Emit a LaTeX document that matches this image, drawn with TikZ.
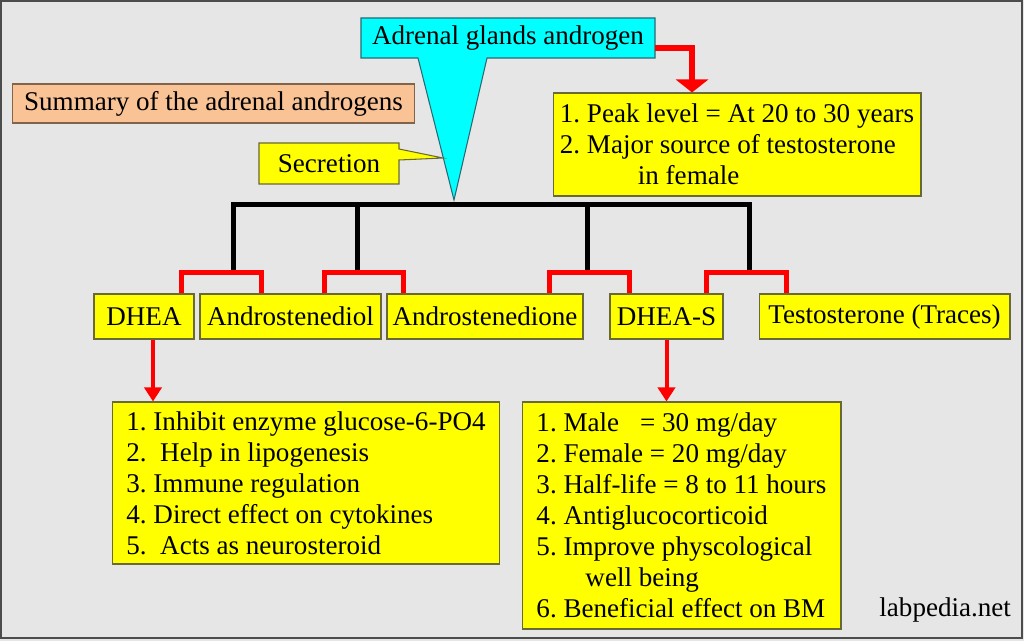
\documentclass[tikz,border=0pt]{standalone}
\usepackage{fontspec}
\setmainfont{Liberation Serif}
\usetikzlibrary{arrows.meta}
\frenchspacing
\definecolor{bg}{RGB}{230,230,230}
\definecolor{olive}{RGB}{105,105,55}
\definecolor{teal}{RGB}{40,105,115}
\definecolor{peach}{RGB}{250,195,150}
\definecolor{tan}{RGB}{130,100,75}
\definecolor{aqua}{RGB}{0,255,255}
\definecolor{lemon}{RGB}{255,255,0}
\definecolor{scarlet}{RGB}{255,0,0}
\tikzset{
  every node/.style={font=\fontsize{15.4}{17.6}\selectfont, inner sep=1pt},
  ybox/.style={draw=olive, fill=lemon, line width=0.6pt, minimum height=0.9cm},
  redarrow/.style={scarlet, line width=0.12cm, -{Triangle[width=0.64cm, length=0.26cm]}},
  thinarrow/.style={scarlet, line width=0.08cm, -{Triangle[width=0.34cm, length=0.28cm]}},
  redbrk/.style={scarlet, line width=0.1cm},
  blk/.style={black, line width=0.1cm}
}
\begin{document}
\begin{tikzpicture}[x=0.02cm, y=-0.02cm, line join=miter]
  \useasboundingbox (0,0) rectangle (1024,641);
  \fill[bg] (0,0) rectangle (1024,641);
  \draw[black!70, line width=0.04cm] (1,1) rectangle (1022,638);
  % callouts
  \filldraw[fill=aqua, draw=teal, line width=0.6pt] (361,18) -- (655,18) -- (655,58) -- (487,58) -- (454,200) -- (418,58) -- (361,58) -- cycle;
  \node[minimum width=5.88cm, minimum height=0.8cm] (src) at (508,38) {Adrenal glands androgen};
  \filldraw[fill=lemon, draw=olive, line width=0.6pt] (259,143) -- (399,143) -- (399,149) -- (443,158) -- (399,160) -- (399,184) -- (259,184) -- cycle;
  \node (secr) at (329,163.5) {Secretion};
  \node[draw=tan, fill=peach, line width=0.6pt, minimum width=8.06cm, minimum height=0.78cm] (summ) at (213.5,103.5) {Summary of the adrenal androgens};
  \node[ybox, minimum width=7.36cm, minimum height=2.06cm, align=left] (peak) at (737,144.5) {1. Peak level = At 20 to 30 years\\2. Major source of testosterone\\\hspace*{1.56cm}in female};
  % products
  \foreach \n/\x/\w/\t in {dhea/144/2/DHEA, diol/290.5/3.62/Androstenediol, dione/485/3.92/Androstenedione, dheas/666.5/2.26/DHEA-S, testo/884.5/5.02/Testosterone (Traces)}
    \node[ybox, minimum width=\w cm] (\n) at (\x,316.5) {\t};
  \node[ybox, minimum width=7.76cm, minimum height=3.24cm, align=left] (dlist) at (306,483) {1. Inhibit enzyme glucose-6-PO4\\2.~ Help in lipogenesis\\3. Immune regulation\\4. Direct effect on cytokines\\5.~ Acts as neurosteroid};
  \node[ybox, minimum width=6.38cm, minimum height=4.54cm, align=left] (slist) at (681.5,515.5) {1. Male\hspace{0.42cm}= 30 mg/day\\2. Female = 20 mg/day\\3. Half-life = 8 to 11 hours\\4. Antiglucocorticoid\\5. Improve physcological\\\hspace*{0.98cm}well being\\6. Beneficial effect on BM};
  \node[anchor=east] (web) at (1013,610) {labpedia.net};
  % links
  \draw[redarrow] ([yshift=-0.2cm]src.east) -| ([xshift=-0.9cm]peak.north);
  \draw[blk] (233,270) |- (749,205) -- (749,270);
  \foreach \x in {357,587} \draw[blk] (\x,205) -- (\x,270);
  \foreach \a/\b/\m/\k in {dhea/diol/181/261, diol/dione/324/403, dione/dheas/549/629, dheas/testo/706/786}
    \draw[redbrk] (\m,0 |- \a.north) |- (\k,273) -- (\k,0 |- \b.north);
  \draw[thinarrow] ([xshift=0.18cm]dhea.south) -- ([xshift=0.18cm]dhea.south |- dlist.north);
  \draw[thinarrow] (dheas.south) -- (dheas.south |- slist.north);
\end{tikzpicture}
\end{document}
